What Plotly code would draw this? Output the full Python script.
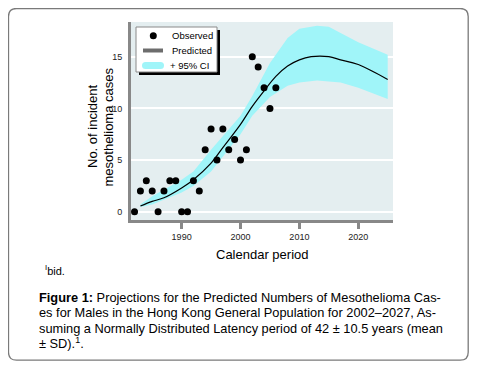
import plotly.graph_objects as go

# ---- data ----
obs_years = [1982, 1983, 1984, 1985, 1986, 1987, 1988, 1989, 1990, 1991, 1992, 1993,
             1994, 1995, 1996, 1997, 1998, 1999, 2000, 2001, 2002, 2003, 2004, 2005, 2006]
obs_cases = [0, 2, 3, 2, 0, 2, 3, 3, 0, 0, 3, 2,
             6, 8, 5, 8, 6, 7, 5, 6, 15, 14, 12, 10, 12]

pred_years = [1983, 1985, 1987, 1990, 1992, 1995, 1997, 2000, 2002, 2004, 2006, 2008,
              2010, 2012, 2015, 2017, 2020, 2025]
pred_cases = [0.55, 1.0, 1.35, 2.3, 3.1, 4.7, 6.2, 8.45, 10.2, 11.7, 13.1, 14.1,
              14.7, 15.0, 15.0, 14.7, 14.25, 12.8]

ci_years = [1983, 1985, 1990, 1992, 1995, 2000, 2002, 2005, 2008, 2010, 2013, 2015,
            2017, 2020, 2025]
ci_upper = [0.7, 1.5, 3.1, 3.9, 6.0, 9.3, 11.2, 14.4, 16.8, 17.7, 18.0, 17.9,
            17.3, 16.4, 15.2]
ci_lower = [0.45, 0.7, 1.85, 2.5, 3.9, 7.5, 9.3, 11.1, 12.2, 12.5, 12.7, 12.6,
            12.5, 12.0, 10.9]

x_ticks = [1990, 2000, 2010, 2020]
y_ticks = [0, 5, 10, 15]

legend_labels = ["Observed", "Predicted", "+ 95% CI"]
y_title_lines = ["No. of incident", "mesothelioma cases"]
x_title = "Calendar period"

caption_lines = [
    "<b>Figure 1:</b> Projections for the Predicted Numbers of Mesothelioma Cas-",
    "es for Males in the Hong Kong General Population for 2002\u20132027, As-",
    "suming a Normally Distributed Latency period of 42 \u00b1 10.5 years (mean",
    "\u00b1 SD).<sup>1</sup>.",
]

# ---- layout geometry ----
# The page body has an 8px margin, so the figure is drawn 8px smaller and
# all reference pixel positions (ref coords) are mapped via the plot area.
OFF = 8
W, H = 477 - 2 * OFF, 369 - 2 * OFF
L, R, T, B = 131, 393, 22, 220          # plot area in reference pixel coords
FONT = "Liberation Sans, Arial, sans-serif"
CYAN = "#a0f5f9"


def px(x):
    return (x - L) / (R - L)


def py(y):
    return (B - y) / (B - T)


def rounded_path(x0, y0, x1, y1, r):
    return (f"M {px(x0+r)},{py(y0)} L {px(x1-r)},{py(y0)} Q {px(x1)},{py(y0)} {px(x1)},{py(y0+r)} "
            f"L {px(x1)},{py(y1-r)} Q {px(x1)},{py(y1)} {px(x1-r)},{py(y1)} "
            f"L {px(x0+r)},{py(y1)} Q {px(x0)},{py(y1)} {px(x0)},{py(y1-r)} "
            f"L {px(x0)},{py(y0+r)} Q {px(x0)},{py(y0)} {px(x0+r)},{py(y0)} Z")


fig = go.Figure()

# CI band
fig.add_trace(go.Scatter(x=ci_years, y=ci_lower, mode="lines", line=dict(width=0, color=CYAN),
                         showlegend=False, hoverinfo="skip"))
fig.add_trace(go.Scatter(x=ci_years, y=ci_upper, mode="lines", line=dict(width=0, color=CYAN),
                         fill="tonexty", fillcolor=CYAN, showlegend=False, hoverinfo="skip"))
# predicted
fig.add_trace(go.Scatter(x=pred_years, y=pred_cases, mode="lines", line=dict(color="black", width=1.2),
                         line_shape="spline", showlegend=False))
# observed
fig.add_trace(go.Scatter(x=obs_years, y=obs_cases, mode="markers",
                         marker=dict(color="black", size=7), showlegend=False))

shapes = []
# rounded outer border (clamped to the drawable page area)
shapes.append(dict(type="path", xref="paper", yref="paper",
                   path=rounded_path(OFF + 0.5, OFF + 0.5, 477 - OFF - 0.8, 369 - OFF - 0.8, 8),
                   line=dict(color="#7a7a7a", width=1.3), layer="below"))

# legend: shadow, box, symbols
shapes.append(dict(type="rect", xref="paper", yref="paper",
                   x0=px(139), x1=px(220), y0=py(75), y1=py(30),
                   fillcolor="black", line=dict(width=0), layer="above"))
shapes.append(dict(type="rect", xref="paper", yref="paper",
                   x0=px(136), x1=px(217), y0=py(72), y1=py(27),
                   fillcolor="white", line=dict(color="#8a8a8a", width=1), layer="above"))
shapes.append(dict(type="circle", xref="paper", yref="paper",
                   x0=px(149.8), x1=px(156.8), y0=py(39.2), y1=py(32.2),
                   fillcolor="black", line=dict(width=0), layer="above"))
shapes.append(dict(type="line", xref="paper", yref="paper",
                   x0=px(143), x1=px(163), y0=py(50.5), y1=py(50.5),
                   line=dict(color="#6d6d6d", width=4), layer="above"))
shapes.append(dict(type="path", xref="paper", yref="paper",
                   path=rounded_path(142, 62, 164, 69, 3.5),
                   fillcolor=CYAN, line=dict(width=0), layer="above"))

annotations = []
legend_text_x = [170, 170, 167.5]
legend_text_y = [35.7, 50.5, 65.5]
for lbl, lx, ly in zip(legend_labels, legend_text_x, legend_text_y):
    annotations.append(dict(text=lbl, xref="paper", yref="paper", x=px(lx), y=py(ly),
                            xanchor="left", yanchor="middle", showarrow=False,
                            font=dict(family=FONT, size=9.5, color="black")))

for txt, tx in zip(y_title_lines, [92, 107.5]):
    annotations.append(dict(text=txt, textangle=-90,
                            xref="paper", yref="paper", x=px(tx), y=py(127),
                            xanchor="center", yanchor="middle", showarrow=False,
                            font=dict(family=FONT, size=13, color="black")))
annotations.append(dict(text=x_title, xref="paper", yref="paper",
                        x=px(262), y=py(255), xanchor="center", yanchor="middle",
                        showarrow=False, font=dict(family=FONT, size=13, color="black")))
annotations.append(dict(text="<sup>I</sup>bid.", xref="paper", yref="paper",
                        x=px(43), y=py(270), xanchor="left", yanchor="middle",
                        showarrow=False, font=dict(family=FONT, size=11, color="black")))
for i, line in enumerate(caption_lines):
    annotations.append(dict(text=line, xref="paper", yref="paper",
                            x=px(37), y=py(297.5 + 15.3 * i), xanchor="left", yanchor="middle",
                            showarrow=False, font=dict(family=FONT, size=12.8, color="black")))

fig.update_layout(
    width=W, height=H,
    margin=dict(l=L - OFF, r=(477 - OFF) - R, t=T - OFF, b=(369 - OFF) - B, pad=0),
    paper_bgcolor="white",
    plot_bgcolor="#e4eef0",
    font=dict(family=FONT, size=9, color="black"),
    showlegend=False,
    shapes=shapes,
    annotations=annotations,
    xaxis=dict(range=[1981.4, 2025.9], tickvals=x_ticks, showgrid=False, zeroline=False,
               showline=True, linecolor="#888888", linewidth=3,
               ticks="outside", ticklen=6, tickwidth=3, tickcolor="#888888",
               tickfont=dict(size=9, color="#222222")),
    yaxis=dict(range=[-0.8, 18.36], tickvals=y_ticks, showgrid=True, gridcolor="white", gridwidth=2,
               zeroline=False, showline=True, linecolor="#888888", linewidth=3,
               ticks="", ticklabelstandoff=4, tickfont=dict(size=9, color="#222222")),
)

fig.write_html("out.html")
